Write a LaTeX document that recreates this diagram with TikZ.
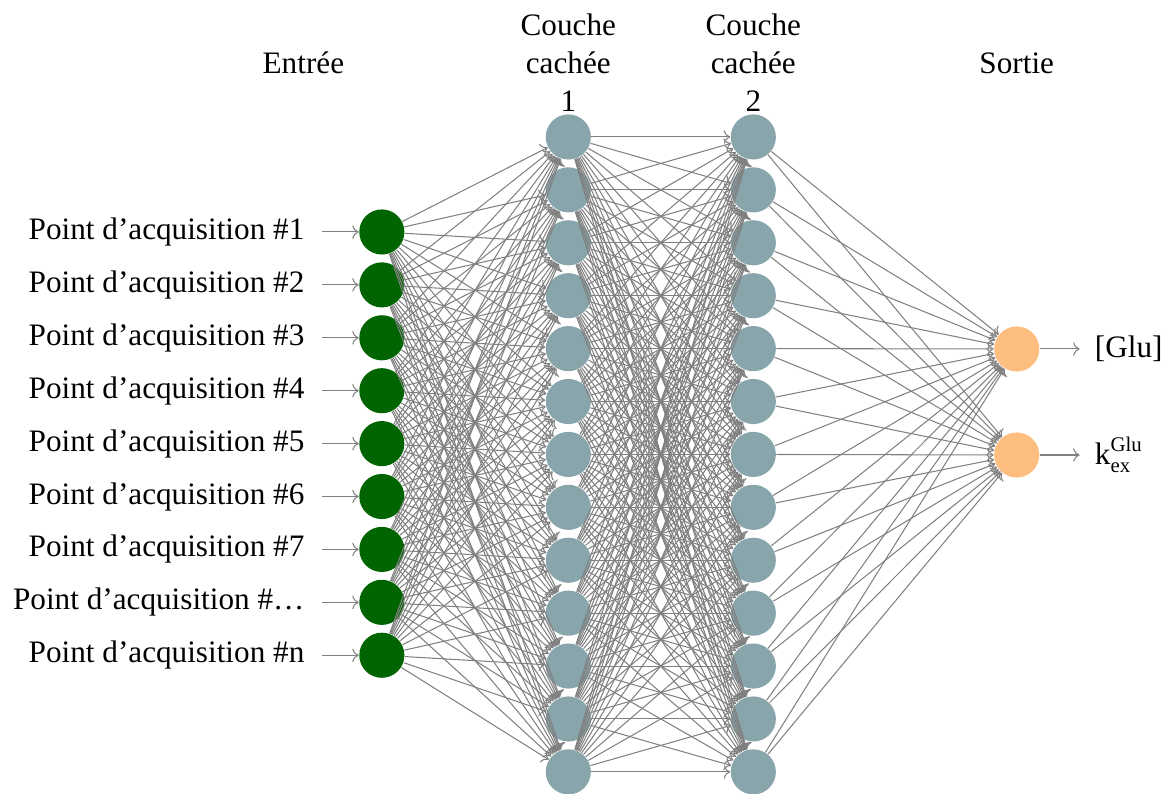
\documentclass[tikz,border=0pt]{standalone}
\usepackage{fontspec}
\usepackage{amsmath}
\setmainfont{Liberation Serif}
\usepackage{xcolor}
\usetikzlibrary{arrows.meta,positioning}

\definecolor{inputgreen}{RGB}{0,100,0}
\definecolor{hiddengray}{RGB}{136,165,171}
\definecolor{outputorange}{RGB}{253,190,128}

\begin{document}
\begin{tikzpicture}[
  font=\fontsize{12}{14.6}\selectfont,
  neuron/.style={circle, minimum size=0.61cm, inner sep=0pt},
  input neuron/.style={neuron, fill=inputgreen},
  hidden neuron/.style={neuron, fill=hiddengray},
  output neuron/.style={neuron, fill=outputorange},
  syn/.style={->, draw=gray, thin},
  layer/.style={align=center}
]
\useasboundingbox (0,0) rectangle (15.73,-10.72);

% neurones d'entree
\foreach \lab [count=\i] in {1,2,3,4,5,6,7,\ldots,n} {
  \node[input neuron] (I-\i) at (5.16,{-3.135-0.715*(\i-1)}) {};
  \node[anchor=east, inner xsep=0.23cm] (L-\i) at (4.35,{-3.135-0.715*(\i-1)}) {Point d'acquisition \#\lab};
}

% couches cachees
\foreach \j in {1,...,13} {
  \node[hidden neuron] (H1-\j) at (7.68,{-1.851-0.715*(\j-1)}) {};
  \node[hidden neuron] (H2-\j) at (10.18,{-1.851-0.715*(\j-1)}) {};
}

% sorties
\node[output neuron] (O-1) at (13.74,-4.716) {};
\node[output neuron] (O-2) at (13.74,-6.149) {};
\node[anchor=west, inner xsep=0.2cm] (Y-1) at (14.59,-4.716) {[Glu]};
\node[anchor=west, inner xsep=0.2cm] (Y-2) at (14.59,-6.149) {$\text{k}_{\text{ex}}^{\text{Glu}}$};

% connexions
\foreach \i in {1,...,9} {
  \draw[syn] (L-\i) -- (I-\i);
  \foreach \j in {1,...,13}
    \draw[syn] (I-\i) -- (H1-\j);
}
\foreach \i in {1,...,13}
  \foreach \j in {1,...,13}
    \draw[syn] (H1-\i) -- (H2-\j);
\foreach \i in {1,...,13}
  \foreach \j in {1,2}
    \draw[syn] (H2-\i) -- (O-\j);
\draw[syn] (O-1) -- (Y-1);
\draw[syn] (O-2) -- (Y-2);

% titres
\node[layer] (T-in) at (4.1,-0.85) {Entrée};
\node[layer] (T-h1) at (7.68,-0.85) {Couche\\cachée\\1};
\node[layer] (T-h2) at (10.18,-0.85) {Couche\\cachée\\2};
\node[layer] (T-out) at (13.74,-0.85) {Sortie};
\end{tikzpicture}
\end{document}
